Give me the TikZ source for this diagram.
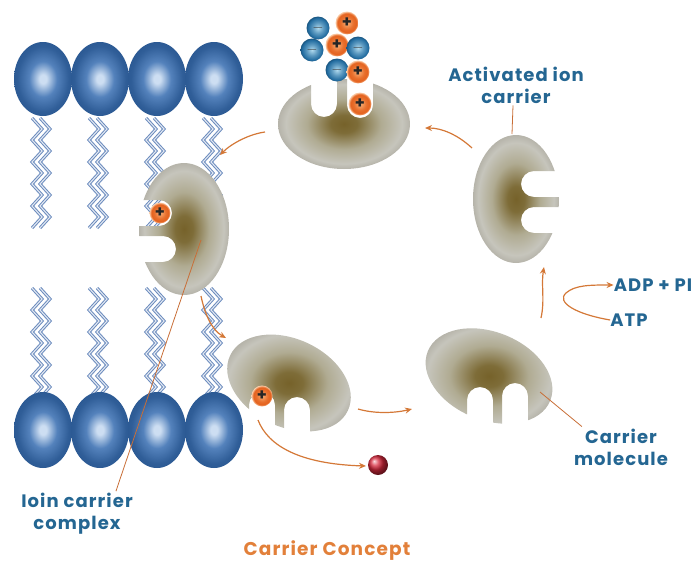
\documentclass[tikz,border=0pt]{standalone}
\usepackage{fontspec}
\setmainfont{Poppins}
\usetikzlibrary{arrows.meta}

\definecolor{labelblue}{RGB}{36,102,146}
\definecolor{arrowc}{RGB}{212,120,55}
\definecolor{pointc}{RGB}{200,110,55}
\definecolor{concept}{RGB}{226,128,58}
\definecolor{headdark}{RGB}{44,90,148}
\definecolor{headmid}{RGB}{84,130,188}
\definecolor{headhi}{RGB}{205,222,242}
\definecolor{tailc}{RGB}{108,140,190}
\definecolor{carin}{RGB}{118,98,42}
\definecolor{carmid}{RGB}{158,150,112}
\definecolor{carout}{RGB}{198,197,188}
\definecolor{caredge}{RGB}{182,180,170}
\definecolor{ionor}{RGB}{228,98,30}
\definecolor{ionorhi}{RGB}{250,178,120}
\definecolor{ionbl}{RGB}{34,108,160}
\definecolor{ionblhi}{RGB}{176,218,238}
\definecolor{relred}{RGB}{215,40,60}

% radial shadings: the 25bp circle is the outline of the shaded path
\pgfdeclareradialshading{headshade}{\pgfpointorigin}{color(0bp)=(headhi); color(3bp)=(headhi); color(12bp)=(headmid); color(22bp)=(headdark!90!headmid); color(25bp)=(headdark); color(50bp)=(headdark)}
\pgfdeclareradialshading{carriershade}{\pgfpointorigin}{color(0bp)=(carin); color(5bp)=(carin!80!carmid); color(14bp)=(carmid!55!carout); color(22bp)=(carout); color(25bp)=(caredge); color(50bp)=(caredge)}
\pgfdeclareradialshading{orangeshade}{\pgfpointorigin}{color(0bp)=(ionorhi); color(14bp)=(ionor!85!ionorhi); color(21bp)=(ionor); color(25bp)=(ionorhi!60!white); color(50bp)=(ionorhi!60!white)}
\pgfdeclareradialshading{blueshade}{\pgfpointorigin}{color(0bp)=(ionblhi); color(12bp)=(ionbl!60!ionblhi); color(22bp)=(ionbl); color(25bp)=(ionbl!80!black); color(50bp)=(ionbl!80!black)}

\tikzset{
  lbl/.style={text=labelblue, font=\bfseries\fontsize{18}{22}\selectfont\addfontfeature{LetterSpace=6}, align=center, inner sep=0pt},
  concepttext/.style={text=concept, font=\bfseries\fontsize{18.5}{22}\selectfont\addfontfeature{LetterSpace=6}, inner sep=0pt},
  cyclearrow/.style={draw=arrowc, line width=1.2pt, -{Stealth[length=7pt,width=6pt]}},
  pointer/.style={draw=pointc, line width=0.8pt},
  tail/.style={draw=tailc, double=white!80!tailc, double distance=1.1pt, line width=1pt, line join=miter},
  ionplus/.style={circle, minimum size=#1, inner sep=0pt, shading=orangeshade, font=\bfseries\fontsize{16}{16}\selectfont, text=black!85},
  ionminus/.style={circle, minimum size=#1, inner sep=0pt, shading=blueshade, font=\bfseries\fontsize{15}{15}\selectfont, text=black!75},
  cutout/.style={even odd rule, rounded corners=13pt},
}

% one hydrocarbon tail: two parallel zigzags, five bends each
\newcommand{\lipidtail}[2]{%
  \draw[tail] (#1-11,#2) \foreach \k in {1,...,5}{ -- ++(10,11) -- ++(-10,11)};
  \draw[tail] (#1-3,#2) \foreach \k in {1,...,5}{ -- ++(10,11) -- ++(-10,11)};
}

\begin{document}
\begin{tikzpicture}[x=1pt, y=-1pt]
\useasboundingbox (0,0) rectangle (696,562);

% ---------- membrane: lipid tails ----------
\foreach \c in {43,100,157,214}{
  \lipidtail{\c}{118}
  \lipidtail{\c}{288}
}

% ---------- membrane: lipid heads ----------
\foreach \c in {43,100,157,214}{
  \shade[shading=headshade] (\c,79) ellipse [x radius=29, y radius=37];
  \shade[shading=headshade] (\c,430) ellipse [x radius=29, y radius=38];
}

% ---------- carrier on top, holding the ions ----------
\begin{scope}
  \clip (344,124) circle [x radius=66, y radius=45];
  \begin{scope}[cutout]
    \clip (-10,-10) rectangle (706,572) (311,50) rectangle (337,117) (347,50) rectangle (373,118);
    \shade[shading=carriershade, sharp corners] (344,124) circle [x radius=66, y radius=45];
  \end{scope}
\end{scope}

% ---------- ion carrier complex inside the membrane ----------
\begin{scope}
  \clip (184,229) circle [x radius=45, y radius=66];
  \begin{scope}[cutout]
    \clip (-10,-10) rectangle (706,572) (100,200) rectangle (172,226) (100,236) rectangle (176,262);
    \shade[shading=carriershade, sharp corners] (184,229) circle [x radius=45, y radius=66];
  \end{scope}
\end{scope}

% ---------- carrier releasing the ion ----------
\begin{scope}
  \clip (289,383) circle [x radius=65, y radius=44, rotate=-25];
  \begin{scope}[cutout]
    \clip (-10,-10) rectangle (706,572) (249,392) rectangle (275,470) (284,397) rectangle (310,470);
    \shade[shading=carriershade, sharp corners] (289,383) circle [x radius=65, y radius=44, rotate=-25];
  \end{scope}
\end{scope}

% ---------- carrier molecule ----------
\begin{scope}
  \clip (489,376) circle [x radius=66, y radius=44, rotate=-22];
  \begin{scope}[cutout]
    \clip (-10,-10) rectangle (706,572) (467,387) rectangle (493,470) (502,383) rectangle (528,470);
    \shade[shading=carriershade, sharp corners] (489,376) circle [x radius=66, y radius=44, rotate=-22];
  \end{scope}
\end{scope}

% ---------- activated ion carrier ----------
\begin{scope}
  \clip (516,199) circle [x radius=43, y radius=64];
  \begin{scope}[cutout]
    \clip (-10,-10) rectangle (706,572) (521,171) rectangle (610,197) (521,207) rectangle (610,233);
    \shade[shading=carriershade, sharp corners] (516,199) circle [x radius=43, y radius=64];
  \end{scope}
\end{scope}

% ---------- ions ----------
\node[ionminus=23pt] (b1) at (318,28) {$-$};
\node[ionplus=23pt]  (o1) at (347,23) {+};
\node[ionminus=23pt] (b2) at (312,50) {$-$};
\node[ionplus=23pt]  (o2) at (337,45) {+};
\node[ionminus=23pt] (b3) at (358,48) {$-$};
\node[ionminus=23pt] (b4) at (337,70) {$-$};
\node[ionplus=23pt]  (o3) at (358,72) {+};
\node[ionplus=23pt]  (o4) at (360,104) {+};
\node[ionplus=21pt]  (o5) at (160,213) {+};
\node[ionplus=21pt]  (o6) at (262,396) {+};

% released ion
\shade[ball color=relred] (378,465) circle (10);
\coordinate (free) at (366,466);

% ---------- cycle arrows ----------
\coordinate (topL)  at (265,132);
\coordinate (memIn) at (220,155);
\coordinate (memB)  at (201,296);
\coordinate (blT)   at (226,338);
\coordinate (blR)   at (358,409);
\coordinate (brL)   at (412,409);
\coordinate (ionOut) at (258,420);
\coordinate (brT)   at (541,318);
\coordinate (rtB)   at (544,267);
\coordinate (rtL)   at (472,148);
\coordinate (topR)  at (425,128);

\draw[cyclearrow] (topL) .. controls (250,134) and (232,143) .. (memIn);
\draw[cyclearrow] (memB) .. controls (205,315) and (212,330) .. (blT);
\draw[cyclearrow] (blR) .. controls (375,414) and (395,413) .. (brL);
\draw[cyclearrow] (ionOut) .. controls (268,446) and (300,464) .. (free);
\draw[cyclearrow] (brT) .. controls (545,300) and (541,285) .. (rtB);
\draw[cyclearrow] (rtL) .. controls (458,135) and (442,128) .. (topR);

% ---------- labels ----------
\node[lbl] (act)  at (516,85)  {Activated ion\\carrier};
\node[lbl] (adp)  at (653,285) {ADP + PI};
\node[lbl] (atp)  at (629,320) {ATP};
\node[lbl] (mol)  at (621,447) {Carrier\\molecule};
\node[lbl] (cplx) at (77,514)  {Ioin carrier\\complex};
\node[concepttext] (title) at (327,551) {Carrier Concept};

% ATP -> ADP + PI
\draw[cyclearrow] (atp.west) .. controls (575,314) and (556,302) .. (566,293)
  .. controls (575,285) and (590,285) .. (adp.west);

% ---------- pointer lines ----------
\coordinate (actTip)  at (512,134);
\coordinate (molTip)  at (540,392);
\coordinate (cplxTip) at (201,240);
\draw[pointer] (act.south) ++(-3,2) -- (actTip);
\draw[pointer] (mol.north west) ++(8,-2) -- (molTip);
\draw[pointer] (cplx.north east) ++(-17,-2) -- (cplxTip);
\end{tikzpicture}
\end{document}
